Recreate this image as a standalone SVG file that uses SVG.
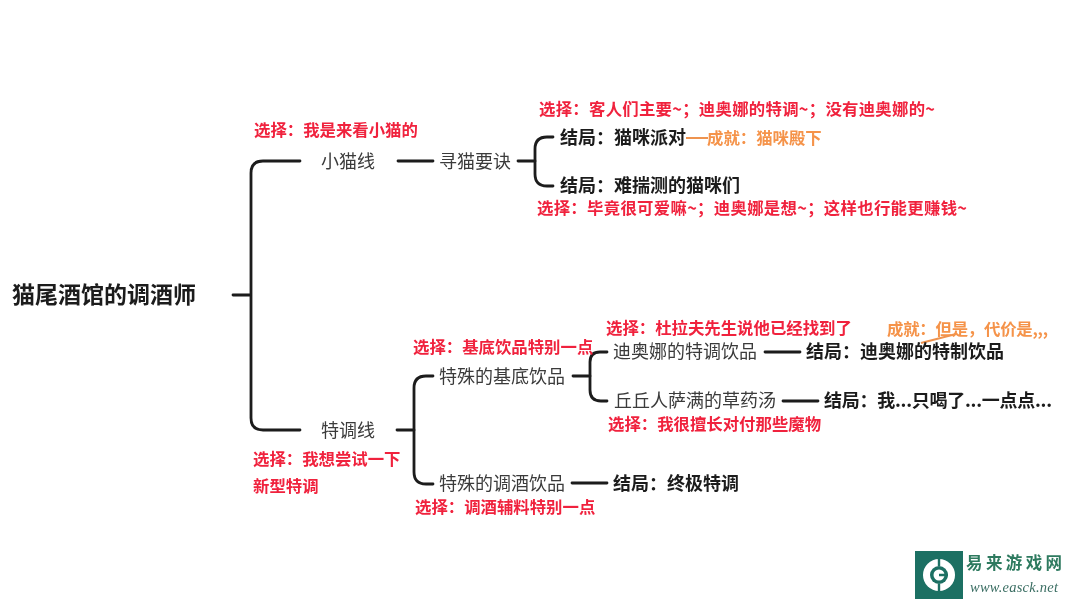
<svg xmlns="http://www.w3.org/2000/svg" width="1068" height="600" viewBox="0 0 1068 600">
<style>
text{font-family:"Noto Sans CJK SC","Noto Sans",sans-serif;}
.t{font-size:23px;font-weight:700;fill:#1a1a1a}
.n{font-size:18px;font-weight:400;fill:#3a3a3a}
.e{font-size:18px;font-weight:700;fill:#1a1a1a}
.r{font-size:16.4px;font-weight:700;fill:#f0203c}
.o{font-size:16.4px;font-weight:700;fill:#f5934a}
.c{fill:none;stroke:#1c1c1c;stroke-width:2.8;stroke-linecap:round;stroke-linejoin:round}
.oc{fill:none;stroke:#ee9350;stroke-width:2}
</style>
<defs><filter id="soft" x="0" y="0" width="100%" height="100%"><feGaussianBlur stdDeviation="0.3"/></filter></defs>
<rect width="1068" height="600" fill="#fff"/>
<g filter="url(#soft)">
<g id="connectors">
<path class="c" d="M233 295H250"/>
<path class="c" d="M300 161H263Q251 161 251 173V418Q251 430 263 430H300"/>
<path class="c" d="M398 161H433"/>
<path class="c" d="M518 161H535"/>
<path class="c" d="M553 137H547Q535 137 535 149V174Q535 186 547 186H553"/>
<path class="c" d="M397 430H414"/>
<path class="c" d="M433 376H426Q414 376 414 388V472Q414 484 426 484H433"/>
<path class="c" d="M573 376H590"/>
<path class="c" d="M607 352H600Q590 352 590 362V390Q590 401 601 401H607"/>
<path class="c" d="M572 483H607"/>
<path class="c" d="M765 352H800"/>
<path class="c" d="M783 401H818"/>
<path class="oc" d="M686 138H708"/>
<path class="oc" d="M921 343L956 334"/>
</g>
<g id="root"><text class="t" x="12" y="303">猫尾酒馆的调酒师</text></g>
<g id="n-cat"><text class="n" x="321" y="168">小猫线</text><text class="r" x="254" y="136">选择：我是来看小猫的</text></g>
<g id="n-find"><text class="n" x="439" y="168">寻猫要诀</text></g>
<g id="n-party"><text class="e" x="560" y="144">结局：猫咪派对</text><text class="r" x="539" y="115" textLength="396">选择：客人们主要~；迪奥娜的特调~；没有迪奥娜的~</text></g>
<g id="n-ach1"><text class="o" x="707" y="144">成就：猫咪殿下</text></g>
<g id="n-hard"><text class="e" x="560" y="192">结局：难揣测的猫咪们</text><text class="r" x="537" y="214" textLength="430">选择：毕竟很可爱嘛~；迪奥娜是想~；这样也行能更赚钱~</text></g>
<g id="n-special"><text class="n" x="321" y="437">特调线</text><text class="r" x="253" y="465">选择：我想尝试一下</text><text class="r" x="253" y="492">新型特调</text></g>
<g id="n-base"><text class="n" x="439" y="383">特殊的基底饮品</text><text class="r" x="413" y="353">选择：基底饮品特别一点</text></g>
<g id="n-diona"><text class="n" x="613" y="358">迪奥娜的特调饮品</text><text class="r" x="606" y="334">选择：杜拉夫先生说他已经找到了</text></g>
<g id="n-end1"><text class="e" x="806" y="358">结局：迪奥娜的特制饮品</text></g>
<g id="n-ach2"><text class="o" x="887" y="335" textLength="161">成就：但是，代价是,,,</text></g>
<g id="n-soup"><text class="n" x="614" y="407">丘丘人萨满的草药汤</text><text class="r" x="608" y="430">选择：我很擅长对付那些魔物</text></g>
<g id="n-end2"><text class="e" x="824" y="407" textLength="228">结局：我...只喝了...一点点...</text></g>
<g id="n-mix"><text class="n" x="439" y="490">特殊的调酒饮品</text><text class="r" x="415" y="513">选择：调酒辅料特别一点</text></g>
<g id="n-end3"><text class="e" x="613" y="490">结局：终极特调</text></g>
<g id="logo">
<rect x="915" y="551" width="48" height="48" fill="#1b6f63"/>
<circle cx="939" cy="575" r="16" fill="#fff"/>
<circle cx="939" cy="575" r="9" fill="#1b6f63"/>
<circle cx="939" cy="575" r="5.5" fill="#fff"/>
<path d="M939 558V566M939 584V592M939 575H948" stroke="#1b6f63" stroke-width="2.4" fill="none"/>
<text x="966" y="569" textLength="96" style="font-family:'Noto Sans CJK SC',sans-serif;font-size:16.5px;font-weight:700;fill:#2d7a5f">易来游戏网</text>
<text x="970" y="592" textLength="88" style="font-family:'Liberation Serif',serif;font-size:14.5px;font-style:italic;fill:#3b6e63">www.easck.net</text>
</g>
</g>
</svg>
